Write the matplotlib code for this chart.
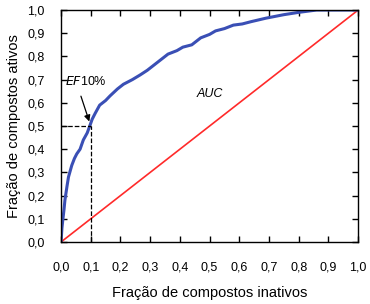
import matplotlib.pyplot as plt
from matplotlib.ticker import FuncFormatter

plt.rcParams['font.family'] = ['Liberation Sans', 'DejaVu Sans']

# ROC curve
fpr = [0.0, 0.003, 0.006, 0.010, 0.013, 0.020, 0.025, 0.036, 0.045, 0.053, 0.064, 0.075,
       0.088, 0.098, 0.105, 0.115, 0.13, 0.15, 0.165, 0.19, 0.21, 0.24, 0.266, 0.29,
       0.31, 0.34, 0.36, 0.39, 0.41, 0.44, 0.47, 0.50, 0.52, 0.55, 0.58, 0.61, 0.64,
       0.69, 0.75, 0.80, 0.86, 0.92, 1.0]
tpr = [0.0, 0.06, 0.096, 0.14, 0.18, 0.24, 0.28, 0.33, 0.36, 0.38, 0.40, 0.44,
       0.47, 0.505, 0.53, 0.555, 0.59, 0.61, 0.63, 0.66, 0.68, 0.70, 0.72, 0.74,
       0.76, 0.79, 0.81, 0.825, 0.84, 0.85, 0.88, 0.895, 0.91, 0.92, 0.935, 0.94, 0.95,
       0.965, 0.98, 0.99, 1.0, 1.0, 1.0]
ticks = [0.0, 0.1, 0.2, 0.3, 0.4, 0.5, 0.6, 0.7, 0.8, 0.9, 1.0]

fig = plt.figure(figsize=(3.7, 3.04), dpi=100)
ax = fig.add_axes([0.165, 0.204, 0.803, 0.763])

ax.plot([0, 1], [0, 1], color='#ff2a2a', lw=1.2)
ax.plot(fpr, tpr, color='#3a4fb5', lw=2.2)
ax.plot([0, 0.1], [0.5, 0.5], 'k--', lw=0.9)
ax.plot([0.1, 0.1], [0, 0.5], 'k--', lw=0.9)

ax.annotate('', xy=(0.098, 0.508), xytext=(0.064, 0.64),
            arrowprops=dict(arrowstyle='-|>', color='k', lw=0.9, mutation_scale=9))
ax.text(0.013, 0.69, '$\\it{EF}$10%', fontsize=9, va='center', ha='left')
ax.text(0.50, 0.64, 'AUC', fontsize=9, style='italic', ha='center', va='center')

ax.set_xlim(0, 1)
ax.set_ylim(0, 1)
ax.set_xticks(ticks)
ax.set_yticks(ticks)
fmt = FuncFormatter(lambda v, p: ('%.1f' % v).replace('.', ','))
ax.xaxis.set_major_formatter(fmt)
ax.yaxis.set_major_formatter(fmt)
ax.tick_params(direction='in', top=True, right=True, length=4, width=1, labelsize=9)
ax.tick_params(axis='x', pad=14)
ax.tick_params(axis='y', pad=12)
for s in ax.spines.values():
    s.set_linewidth(1)

ax.set_xlabel('Fração de compostos inativos', fontsize=10.5, labelpad=9)
ax.set_ylabel('Fração de compostos ativos', fontsize=10.5, labelpad=4)

fig.savefig('out.png', dpi=100)
